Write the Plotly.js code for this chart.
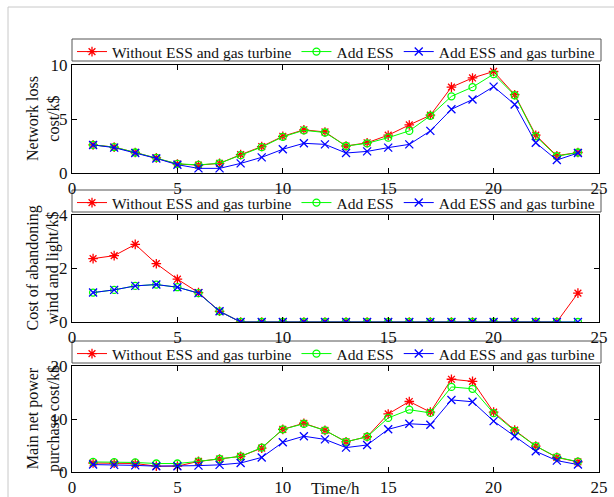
<!DOCTYPE html>
<html><head><meta charset="utf-8">
<script src="https://cdn.plot.ly/plotly-3.0.1.min.js"></script>
<style>body{margin:0;background:#fff}</style></head>
<body><div id="chart" style="width:614px;height:497px"></div>
<script>
const hours = [1,2,3,4,5,6,7,8,9,10,11,12,13,14,15,16,17,18,19,20,21,22,23,24];
const seriesNames = ['Without ESS and gas turbine', 'Add ESS', 'Add ESS and gas turbine'];

// Network loss cost / k$
const lossWithout = [2.6,2.4,1.9,1.4,0.83,0.73,0.89,1.7,2.45,3.4,4.0,3.8,2.5,2.8,3.5,4.45,5.35,7.95,8.8,9.4,7.25,3.5,1.6,1.9];
const lossESS     = [2.6,2.4,1.9,1.4,0.85,0.75,0.9,1.65,2.4,3.35,3.95,3.75,2.5,2.75,3.27,3.9,5.3,7.1,7.95,9.15,7.2,3.4,1.55,1.9];
const lossESSGas  = [2.6,2.35,1.85,1.35,0.77,0.43,0.43,0.89,1.45,2.2,2.75,2.65,1.85,2.0,2.35,2.65,3.9,5.9,6.8,8.0,6.35,2.8,1.2,1.85];

// Cost of abandoning wind and light / k$
const curtWithout = [2.37,2.48,2.9,2.18,1.6,1.1,0.4,0,0,0,0,0,0,0,0,0,0,0,0,0,0,0,0,1.08];
const curtESS     = [1.1,1.2,1.35,1.4,1.3,1.08,0.4,0,0,0,0,0,0,0,0,0,0,0,0,0,0,0,0,0];
const curtESSGas  = [1.1,1.2,1.35,1.4,1.3,1.08,0.4,0,0,0,0,0,0,0,0,0,0,0,0,0,0,0,0,0];

// Main net power purchase cost / k$
const buyWithout = [1.7,1.65,1.6,1.1,1.1,2.0,2.45,2.95,4.5,8.05,9.2,7.85,5.7,6.65,10.95,13.3,11.3,17.5,17.1,11.3,7.9,4.9,2.75,1.9];
const buyESS     = [1.9,1.85,1.8,1.6,1.6,2.0,2.45,2.95,4.6,8.05,9.1,7.85,5.7,6.65,10.2,11.75,11.15,16.05,15.7,11.1,7.75,4.9,2.8,1.95];
const buyESSGas  = [1.4,1.35,1.25,1.1,1.1,1.2,1.35,1.7,2.75,5.6,6.75,6.15,4.6,5.1,8.05,9.1,8.9,13.6,13.25,9.6,6.75,3.9,2.15,1.4];

const xTicks = [0,5,10,15,20,25];
const yTicks1 = [0,5,10], yTicks2 = [0,2,4], yTicks3 = [0,10,20];
const yTitles = ['Network loss<br>cost/k$', 'Cost of abandoning<br>wind and light/k$', 'Main net power<br>purchase cost/k$'];

const styles = [
  {color:'#ff0000', symbol:'asterisk-open', size:8},
  {color:'#00ff00', symbol:'circle-open', size:7},
  {color:'#0000ff', symbol:'x-thin-open', size:8}
];
const panels = [
  {data:[lossWithout, lossESS, lossESSGas], x:'x', y:'y', legend:'legend'},
  {data:[curtWithout, curtESS, curtESSGas], x:'x2', y:'y2', legend:'legend2'},
  {data:[buyWithout, buyESS, buyESSGas], x:'x3', y:'y3', legend:'legend3'}
];
const traces = [];
panels.forEach(p => {
  p.data.forEach((vals, i) => {
    traces.push({
      x: hours, y: vals, xaxis: p.x, yaxis: p.y, legend: p.legend,
      type:'scatter', mode:'lines+markers', name: seriesNames[i],
      line:{color:styles[i].color, width:1},
      marker:{symbol:styles[i].symbol, size:styles[i].size, color:styles[i].color, line:{color:styles[i].color, width:1.3}}
    });
  });
});

const H = 497, W = 614;
const FAM = 'Liberation Serif';
const TXT = '#111';
const font = {family:FAM, size:17, color:TXT};
const xDom = [72/W, 599/W];
const panelPx = [[65,173],[215,322],[366,472]];
const legendBoxPx = [[39,61],[190,212],[341,363]];
function xax(anchor){
  return {domain:xDom, anchor:anchor, range:[0,25], tickvals:xTicks, ticks:'inside', ticklen:5,
    mirror:'ticks', showline:true, linecolor:'#000', linewidth:1, tickcolor:'#000',
    showgrid:false, zeroline:false, tickfont:{family:FAM, size:17, color:TXT}, fixedrange:true};
}
function yax(anchor, px, range, tv){
  return {domain:[1-px[1]/H, 1-px[0]/H], anchor:anchor, range:range, tickvals:tv, ticks:'inside', ticklen:5,
    mirror:'ticks', showline:true, linecolor:'#000', linewidth:1, tickcolor:'#000',
    showgrid:false, zeroline:false, tickfont:{family:FAM, size:17, color:TXT}};
}
function leg(box){
  return {orientation:'h', x:72/W, xanchor:'left', y:1-((box[0]+box[1])/2+2)/H, yanchor:'middle',
    borderwidth:0, bgcolor:'rgba(0,0,0,0)', font:{family:FAM, size:15.5, color:TXT}, itemwidth:30, tracegroupgap:0};
}
const annotations = yTitles.map((t, i) => ({
  text:t, xref:'paper', yref:'paper', x:43/W, y:1-(panelPx[i][0]+panelPx[i][1])/2/H,
  xanchor:'center', yanchor:'middle', textangle:-90, showarrow:false,
  font:{family:FAM, size:16, color:TXT}
}));
annotations.push({text:'Time/h', xref:'paper', yref:'paper', x:335/W, y:1-488/H, xanchor:'center', yanchor:'middle', showarrow:false, font:{family:FAM, size:17, color:TXT}});

const shapes = [
  {type:'line', xref:'paper', yref:'paper', x0:8/W, x1:1, y0:1-7/H, y1:1-7/H, line:{color:'#c8c8c8', width:1}},
  {type:'line', xref:'paper', yref:'paper', x0:8/W, x1:8/W, y0:0, y1:1-7/H, line:{color:'#c8c8c8', width:1}}
];
legendBoxPx.forEach(b => shapes.push({type:'rect', xref:'paper', yref:'paper', x0:72/W, x1:601/W,
  y0:1-b[1]/H, y1:1-b[0]/H, line:{color:'#555', width:1}, fillcolor:'rgba(0,0,0,0)', layer:'below'}));

const layout = {
  width:W, height:H, margin:{l:0,r:0,t:0,b:0}, font:font,
  paper_bgcolor:'#fff', plot_bgcolor:'#fff', showlegend:true,
  xaxis: xax('y'), xaxis2: xax('y2'), xaxis3: xax('y3'),
  yaxis: yax('x', panelPx[0], [0,10], yTicks1),
  yaxis2: yax('x2', panelPx[1], [0,4], yTicks2),
  yaxis3: yax('x3', panelPx[2], [0,20], yTicks3),
  legend: leg(legendBoxPx[0]), legend2: leg(legendBoxPx[1]), legend3: leg(legendBoxPx[2]),
  annotations: annotations,
  shapes: shapes
};
Plotly.newPlot('chart', traces, layout, {displayModeBar:false, staticPlot:true});
</script></body></html>
